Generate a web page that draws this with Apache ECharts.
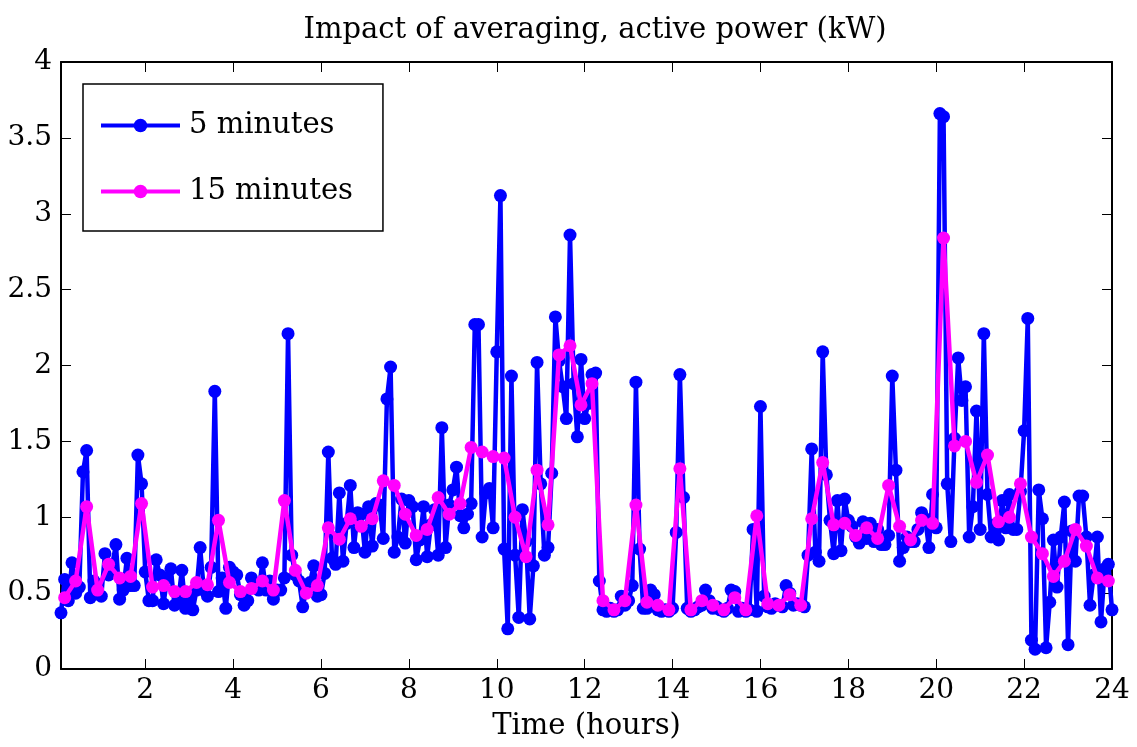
<!DOCTYPE html>
<html>
<head>
<meta charset="utf-8">
<script src="https://cdn.jsdelivr.net/npm/echarts@6/dist/echarts.min.js"></script>
<style>
html,body{margin:0;padding:0;background:#fff;}
#chart{width:1137px;height:747px;}
</style>
</head>
<body>
<div id="chart"></div>
<script>
// 5-minute averages (kW), one value every 5 minutes starting at 00:05
const power5min = [
0.37,0.59,0.45, 0.70,0.50,0.54, 1.30,1.44,0.47, 0.58,0.50,0.48,
0.76,0.62,0.69, 0.82,0.46,0.52, 0.73,0.55,0.55, 1.41,1.22,0.64,
0.45,0.45,0.72, 0.62,0.43,0.60, 0.66,0.42,0.45, 0.65,0.40,0.48,
0.39,0.52,0.80, 0.52,0.48,0.67, 1.83,0.51,0.60, 0.40,0.67,0.64,
0.62,0.49,0.42, 0.45,0.60,0.54, 0.52,0.70,0.52, 0.58,0.46,0.52,
0.52,0.60,2.21, 0.75,0.62,0.58, 0.41,0.52,0.57, 0.68,0.48,0.49,
0.63,1.43,0.73, 0.69,1.16,0.71, 0.96,1.21,0.80, 1.03,1.02,0.77,
1.07,0.81,1.09, 1.08,0.86,1.78, 1.99,0.77,0.87, 1.12,0.83,1.11,
1.07,0.72,0.85, 1.07,0.74,0.95, 1.05,0.75,1.59, 0.80,1.08,1.18,
1.33,1.01,0.93, 1.02,1.09,2.27, 2.27,0.87,1.16, 1.19,0.93,2.09,
3.12,0.79,0.265, 1.93,0.75,0.34, 1.05,0.84,0.33, 0.68,2.02,1.22,
0.75,0.80,1.29, 2.32,2.03,1.86, 1.65,2.86,1.88, 1.53,2.04,1.65,
1.75,1.94,1.95, 0.58,0.39,0.38, 0.40,0.38,0.39, 0.48,0.42,0.45,
0.55,1.89,0.79, 0.40,0.40,0.52, 0.49,0.39,0.38, 0.39,0.38,0.40,
0.90,1.94,1.13, 0.40,0.38,0.39, 0.41,0.42,0.52, 0.45,0.40,0.41,
0.39,0.38,0.40, 0.52,0.51,0.38, 0.40,0.38,0.39, 0.92,0.38,1.73,
0.48,0.41,0.40, 0.43,0.42,0.41, 0.55,0.50,0.42, 0.43,0.42,0.41,
0.75,1.45,0.77, 0.71,2.09,1.28, 0.98,0.76,1.11, 0.78,1.12,0.98,
0.94,0.87,0.83, 0.97,0.86,0.96, 0.84,0.92,0.82, 0.82,0.88,1.93,
1.31,0.71,0.80, 0.87,0.84,0.84, 0.92,1.03,0.99, 0.80,1.15,0.93,
3.66,3.64,1.22, 0.84,1.52,2.05, 1.77,1.86,0.87, 1.07,1.70,0.92,
2.21,1.15,0.87, 0.95,0.85,1.11, 0.93,1.15,0.92, 0.92,1.17,1.57,
2.31,0.19,0.13, 1.18,0.99,0.14, 0.44,0.85,0.54, 0.87,1.10,0.16,
0.91,0.71,1.14, 1.14,0.87,0.42, 0.62,0.87,0.31, 0.66,0.69,0.39
];
// 15-minute averages (kW), one value every 15 minutes, centred at 00:10
const power15min = [
0.47,0.58,1.07,0.52,0.69,0.60,0.61,1.09,0.54,0.55,0.51,0.51,
0.57,0.555,0.98,0.57,0.51,0.53,0.58,0.52,1.11,0.65,0.50,0.55,
0.93,0.855,0.99,0.94,0.99,1.24,1.21,1.02,0.88,0.92,1.13,1.02,
1.09,1.46,1.43,1.40,1.39,1.00,0.74,1.31,0.95,2.07,2.13,1.74,
1.88,0.45,0.39,0.45,1.08,0.44,0.42,0.39,1.32,0.39,0.45,0.42,
0.39,0.47,0.39,1.01,0.43,0.42,0.49,0.42,0.99,1.36,0.95,0.96,
0.88,0.93,0.86,1.21,0.94,0.85,0.98,0.96,2.84,1.47,1.50,1.23,
1.41,0.97,1.00,1.22,0.87,0.76,0.61,0.71,0.92,0.81,0.60,0.58
];
const xTicks = [2,4,6,8,10,12,14,16,18,20,22,24];
const seriesNames = ['5 minutes','15 minutes'];
const titleText = 'Impact of averaging, active power (kW)';
const xName = 'Time (hours)';

const t5 = power5min.map((v,i)=>[(i+1)*5/60, v]);
const t15 = power15min.map((v,i)=>[(10 + i*15)/60, v]);

const FONT = 'DejaVu Serif';
const FS = 28;
const chart = echarts.init(document.getElementById('chart'), null, {renderer:'canvas'});
const axisCommonX = {
  type:'value', min:1/12, max:24,
  axisLine:{show:true,onZero:false,lineStyle:{color:'#000',width:2}},
  axisTick:{show:true,inside:true,length:10,customValues:xTicks,lineStyle:{color:'#000',width:1}},
  splitLine:{show:false}
};
const axisCommonY = {
  type:'value', min:0, max:4, interval:0.5,
  axisLine:{show:true,onZero:false,lineStyle:{color:'#000',width:2}},
  axisTick:{show:true,inside:true,length:10,lineStyle:{color:'#000',width:1}},
  splitLine:{show:false}
};
chart.setOption({
  animation:false,
  backgroundColor:'#fff',
  title:{
    text:titleText, left:590, top:11, textAlign:'center',
    textStyle:{fontFamily:FONT,fontSize:29,fontWeight:'normal',color:'#000'}
  },
  grid:{left:61,right:25,top:62,bottom:78,containLabel:false,outerBoundsMode:'none'},
  legend:{
    data:seriesNames, orient:'vertical', left:83, top:84,
    itemWidth:79, itemHeight:17, itemGap:37,
    padding:[27,30,25,16],
    borderColor:'#000', borderWidth:1.5, backgroundColor:'#fff',
    lineStyle:{width:4},
    textStyle:{fontFamily:FONT,fontSize:29,color:'#000',padding:[0,0,0,4]}
  },
  xAxis:[
    Object.assign({}, axisCommonX, {
      position:'bottom',
      name:xName, nameLocation:'middle', nameGap:43,
      nameTextStyle:{fontFamily:FONT,fontSize:29,color:'#000'},
      axisLabel:{show:true,customValues:xTicks,margin:8,fontFamily:FONT,fontSize:FS,color:'#000'}
    }),
    Object.assign({}, axisCommonX, {position:'top', axisLabel:{show:false}})
  ],
  yAxis:[
    Object.assign({}, axisCommonY, {
      position:'left',
      axisLabel:{show:true,margin:9,fontFamily:FONT,fontSize:FS,color:'#000'}
    }),
    Object.assign({}, axisCommonY, {position:'right', axisLabel:{show:false}})
  ],
  series:[
    {name:seriesNames[0], type:'line', data:t5, xAxisIndex:0, yAxisIndex:0,
     symbol:'circle', symbolSize:13, showSymbol:true, showAllSymbol:true,
     itemStyle:{color:'#0000FF'}, lineStyle:{color:'#0000FF',width:4.5},
     emphasis:{disabled:true}, z:2},
    {name:seriesNames[1], type:'line', data:t15, xAxisIndex:0, yAxisIndex:0,
     symbol:'circle', symbolSize:13, showSymbol:true, showAllSymbol:true,
     itemStyle:{color:'#FF00FF'}, lineStyle:{color:'#FF00FF',width:4.5},
     emphasis:{disabled:true}, z:3}
  ]
});
</script>
</body>
</html>
